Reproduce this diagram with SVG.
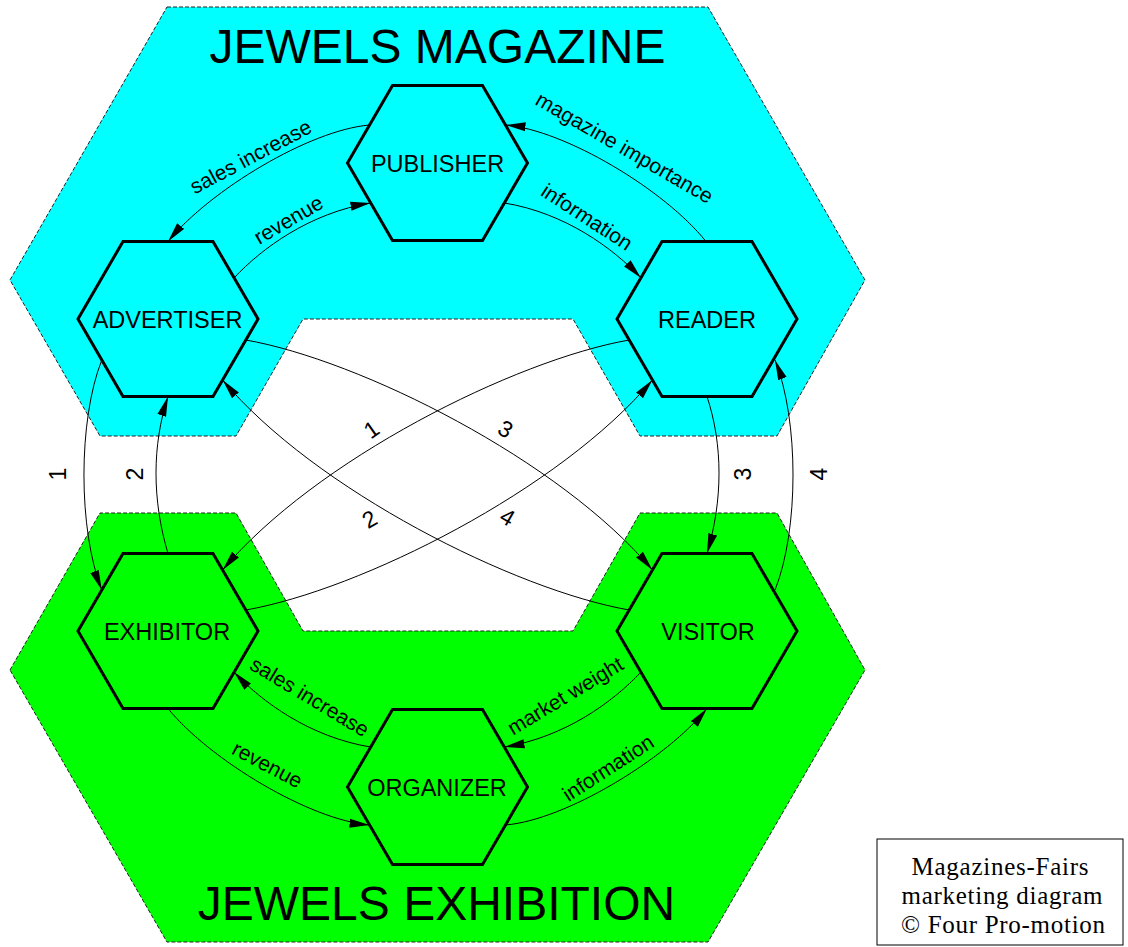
<svg xmlns="http://www.w3.org/2000/svg" width="1128" height="947" viewBox="0 0 1128 947">
<style>
.bg{stroke:#222;stroke-width:1;stroke-dasharray:4 2}
.top{fill:#00ffff}
.bot{fill:#00ff00}
.hex{stroke:#000;stroke-width:3;stroke-linejoin:miter}
.conn path{fill:none;stroke:#000;stroke-width:1;marker-end:url(#arr)}
.title{font-family:"Liberation Sans",Arial,sans-serif;font-size:48px;text-anchor:middle;fill:#000}
.nl{font-family:"Liberation Sans",Arial,sans-serif;font-size:23.5px;text-anchor:middle;fill:#000}
.el{font-family:"Liberation Sans",Arial,sans-serif;font-size:21px;text-anchor:middle;fill:#000}
.dl{font-family:"Liberation Sans",Arial,sans-serif;font-size:23px;text-anchor:middle;fill:#000}
.lg{font-family:"Liberation Serif","Times New Roman",serif;font-size:25px;text-anchor:middle;fill:#000}
</style>
<defs>
<marker id="arr" markerUnits="userSpaceOnUse" markerWidth="20" markerHeight="10" refX="20" refY="5" orient="auto">
<path d="M0,0.5 L20,5 L0,9.5 z" fill="#000"/>
</marker>
</defs>
<rect width="1128" height="947" fill="#fff"/>
<g id="magazine-region">
<polygon class="bg top" points="167,7 708,7 865,280 777,436 640,436 573,319 303,319 236,436 100,436 10,280"/>
<text class="title" x="437.5" y="63">JEWELS MAGAZINE</text>
</g>
<g id="exhibition-region">
<polygon class="bg bot" points="10,670 100,513 236,513 303,631 573,631 640,513 777,513 865,670 708,942 167,942"/>
<text class="title" x="436.5" y="920">JEWELS EXHIBITION</text>
</g>
<g id="publisher">
<polygon class="hex top" points="347.5,163 392.5,85.5 482.5,85.5 527.5,163 482.5,240.5 392.5,240.5"/>
<text class="nl" x="437.5" y="171.5">PUBLISHER</text>
</g>
<g id="advertiser">
<polygon class="hex top" points="78,319 123,241.5 213,241.5 258,319 213,396.5 123,396.5"/>
<text class="nl" x="167.5" y="327.5">ADVERTISER</text>
</g>
<g id="reader">
<polygon class="hex top" points="617,319 662,241.5 752,241.5 797,319 752,396.5 662,396.5"/>
<text class="nl" x="707" y="327.5">READER</text>
</g>
<g id="exhibitor">
<polygon class="hex bot" points="78,631 123,553.5 213,553.5 258,631 213,708.5 123,708.5"/>
<text class="nl" x="167" y="639.5">EXHIBITOR</text>
</g>
<g id="visitor">
<polygon class="hex bot" points="617,631 662,553.5 752,553.5 797,631 752,708.5 662,708.5"/>
<text class="nl" x="708" y="639.5">VISITOR</text>
</g>
<g id="organizer">
<polygon class="hex bot" points="347.5,787 392.5,709.5 482.5,709.5 527.5,787 482.5,864.5 392.5,864.5"/>
<text class="nl" x="437" y="795.5">ORGANIZER</text>
</g>
<g id="connectors" class="conn">
<path d="M369.5,125 C310,130 210,190 168,241.5"/>
<path d="M234,278 C262,248 310,213 370.5,203"/>
<path d="M706,241.5 C665,190 565,130 505.5,125"/>
<path d="M504.5,203 C565,213 613,248 641,278"/>
<path d="M370.5,747 C310,737 262,702 234,672"/>
<path d="M168,708.5 C210,760 310,820 369.5,825"/>
<path d="M641,672 C613,702 565,737 504.5,747"/>
<path d="M505.5,825 C565,820 665,760 707,708.5"/>
<path d="M101.8,360 C78,420 78,530 101.8,590"/>
<path d="M168,553.5 C152,500 152,445 168,396.5"/>
<path d="M707,396.5 C723,445 723,500 707,553.5"/>
<path d="M775,590 C799,530 799,420 775,360"/>
<path d="M245.8,340 C360,360 560,460 652.4,570"/>
<path d="M629.2,340 C515,360 315,460 222.6,570"/>
<path d="M629.2,610 C515,590 315,490 222.6,380"/>
<path d="M245.8,610 C360,590 560,490 652.4,380"/>
</g>
<g id="connector-labels">
<text class="el" transform="translate(254,163) rotate(-28)">sales increase</text>
<text class="el" transform="translate(292,226) rotate(-30)">revenue</text>
<text class="el" transform="translate(621,154) rotate(30)">magazine importance</text>
<text class="el" transform="translate(583,223) rotate(33)">information</text>
<text class="el" transform="translate(306,703) rotate(31)">sales increase</text>
<text class="el" transform="translate(264,771) rotate(28)">revenue</text>
<text class="el" transform="translate(569,702) rotate(-31)">market weight</text>
<text class="el" transform="translate(612,774) rotate(-33)">information</text>
<text class="dl" transform="translate(66,474) rotate(-90)">1</text>
<text class="dl" transform="translate(142.5,474) rotate(-90)">2</text>
<text class="dl" transform="translate(750.5,474) rotate(-90)">3</text>
<text class="dl" transform="translate(826.5,474) rotate(-90)">4</text>
<text class="dl" transform="translate(376,436) rotate(-35)">1</text>
<text class="dl" transform="translate(501.5,436) rotate(30)">3</text>
<text class="dl" transform="translate(373.5,526) rotate(-30)">2</text>
<text class="dl" transform="translate(503.5,524) rotate(30)">4</text>
</g>
<g id="legend">
<rect x="877" y="839" width="246" height="106" fill="#fff" stroke="#000" stroke-width="1"/>
<text class="lg" x="1000" y="875" textLength="177" lengthAdjust="spacing">Magazines-Fairs</text>
<text class="lg" x="1002" y="904" textLength="201" lengthAdjust="spacing">marketing diagram</text>
<text class="lg" x="1003" y="933" textLength="204" lengthAdjust="spacing">© Four Pro-motion</text>
</g>
</svg>
